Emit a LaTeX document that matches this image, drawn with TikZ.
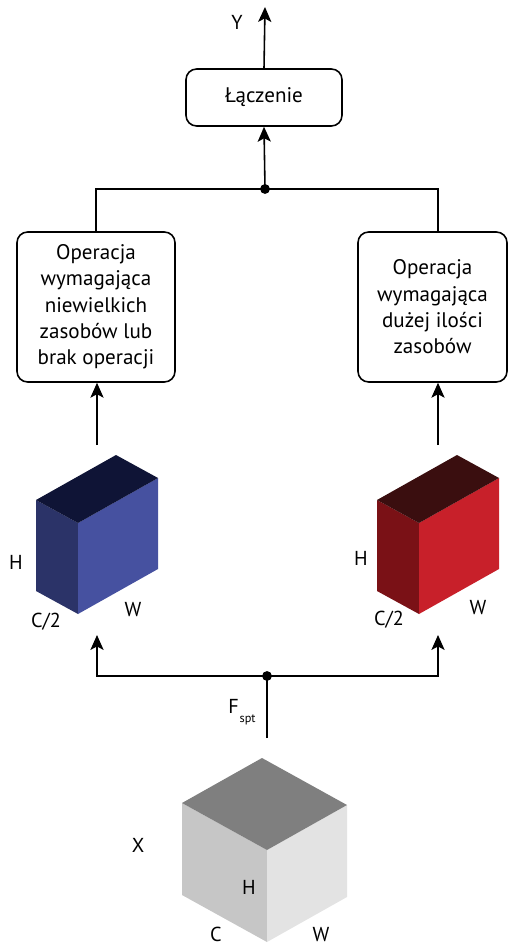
\documentclass[tikz,border=0pt]{standalone}
\usepackage{fontspec}
\setmainfont{PT Sans}
\usetikzlibrary{arrows.meta,positioning}

\definecolor{blueFront}{HTML}{4651A0}
\definecolor{blueSide}{HTML}{2B3368}
\definecolor{blueTop}{HTML}{0F1436}
\definecolor{redFront}{HTML}{C8202A}
\definecolor{redSide}{HTML}{7A1116}
\definecolor{redTop}{HTML}{3A0E0F}
\definecolor{greyTop}{HTML}{7F7F7F}
\definecolor{greySide}{HTML}{C6C6C6}
\definecolor{greyFront}{HTML}{E3E3E3}

\tikzset{
  opbox/.style={draw, rounded corners=6pt, line width=0.9pt, align=center,
    font=\fontsize{12}{15}\selectfont, inner sep=0pt},
  lbl/.style={font=\fontsize{11.5}{13}\selectfont, inner sep=0pt},
  wire/.style={line width=0.9pt},
  flow/.style={wire, -{Stealth[length=8.5pt,width=7.5pt,inset=2pt]}},
}

\begin{document}
\begin{tikzpicture}[x=0.02cm, y=-0.02cm]
  \useasboundingbox (0,0) rectangle (508,945);

  % boxes
  \node[opbox, minimum width=3.12cm, minimum height=1.14cm] (merge) at (264,97.5) {Łączenie};
  \node[opbox, minimum width=3.16cm, minimum height=3.0cm] (lbox) at (96,307)
    {Operacja\\wymagająca\\niewielkich\\zasobów lub\\brak operacji};
  \node[opbox, minimum width=2.98cm, minimum height=3.0cm] (rbox) at (432.5,307)
    {Operacja\\wymagająca\\dużej ilości\\zasobów};

  % joints
  \coordinate (jtop) at (265,189);
  \coordinate (rtop) at (438,189);
  \coordinate (yout) at (265,7);
  \coordinate (jbot) at (267,676);
  \coordinate (xout) at (267,738);
  \coordinate (lin) at (97,635);
  \coordinate (rin) at (438,635);
  \coordinate (lout) at (97,445);
  \coordinate (rout) at (438,445);

  % blue block (C/2)
  \fill[blueSide] (78,614) -- (36,591) -- (36,500) -- (78,523) -- cycle;
  \fill[blueFront] (78,614) -- (158,569) -- (158,478) -- (78,523) -- cycle;
  \fill[blueTop] (78,523) -- (36,500) -- (116,455) -- (158,478) -- cycle;
  % red block (C/2)
  \fill[redSide] (419,614) -- (377,591) -- (377,500) -- (419,523) -- cycle;
  \fill[redFront] (419,614) -- (499,569) -- (499,478) -- (419,523) -- cycle;
  \fill[redTop] (419,523) -- (377,500) -- (457,455) -- (499,478) -- cycle;
  % grey block (X)
  \fill[greySide] (267,942) -- (182,895) -- (182,803) -- (267,850) -- cycle;
  \fill[greyFront] (267,942) -- (347,897) -- (347,805) -- (267,850) -- cycle;
  \fill[greyTop] (267,850) -- (182,803) -- (262,758) -- (347,805) -- cycle;

  % connectors
  \draw[flow] (merge.north) -- (yout);
  \draw[flow] (jtop) -- (merge.south);
  \draw[wire] (lbox.north) |- (rtop) -- (rtop |- rbox.north);
  \draw[flow] (lout) -- (lout |- lbox.south);
  \draw[flow] (rout) -- (rout |- rbox.south);
  \draw[flow] (jbot) -| (lin);
  \draw[flow] (jbot) -| (rin);
  \draw[wire] (xout) -- (jbot);
  \fill (jtop) circle (2.8pt);
  \fill (jbot) circle (2.8pt);

  % labels
  \node[lbl] (ylbl) at (237,22) {Y};
  \node[lbl] (fspt) at (242,712) {F\kern0.5pt\raisebox{-5pt}{\fontsize{7}{8}\selectfont spt}};
  \node[lbl] (hb) at (16,562) {H};
  \node[lbl] (cb) at (46,622) {C/2};
  \node[lbl] (wb) at (133,610) {W};
  \node[lbl] (hr) at (361,558) {H};
  \node[lbl] (cr) at (389,620) {C/2};
  \node[lbl] (wr) at (478,608) {W};
  \node[lbl] (xl) at (138,845) {X};
  \node[lbl] (hg) at (249,887) {H};
  \node[lbl] (cg) at (216,934) {C};
  \node[lbl] (wg) at (321,935) {W};
\end{tikzpicture}
\end{document}
